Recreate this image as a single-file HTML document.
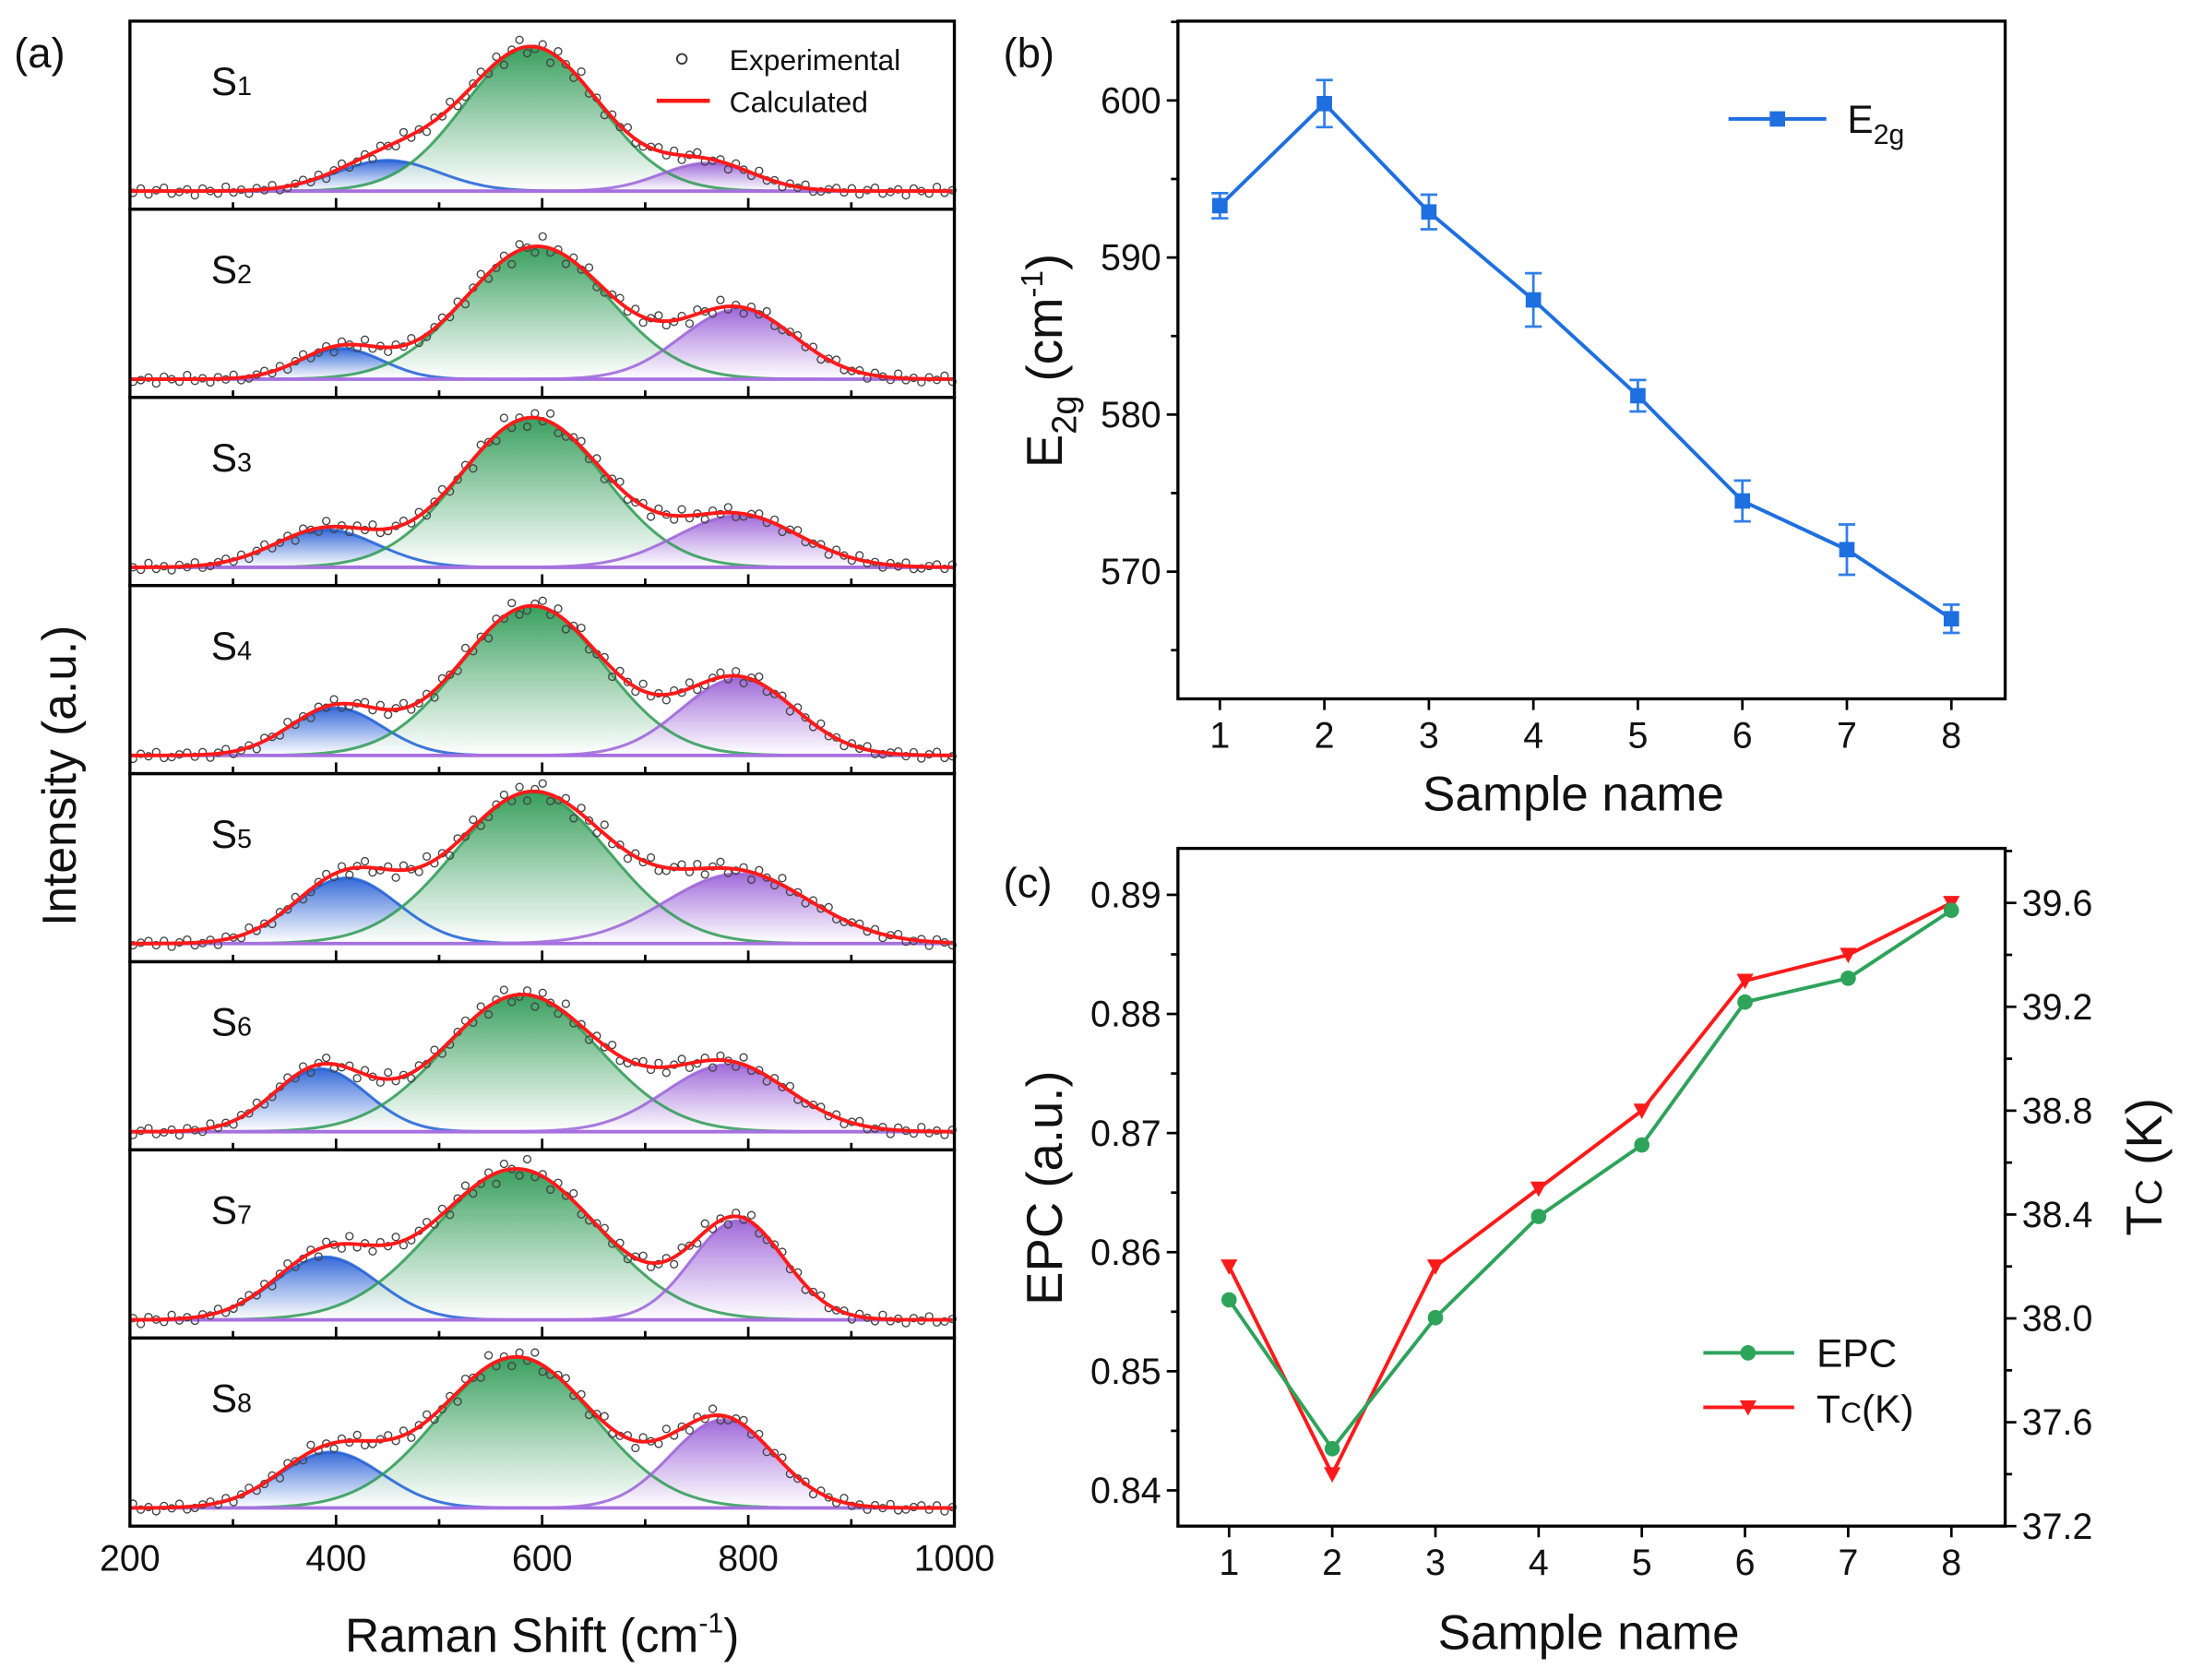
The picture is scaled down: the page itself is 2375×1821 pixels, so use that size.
<!DOCTYPE html>
<html><head><meta charset="utf-8">
<style>
html,body{margin:0;padding:0;background:#fff;}
svg{display:block;font-family:"Liberation Sans",Arial,sans-serif;}
</style></head>
<body>
<svg id="fig" width="2375" height="1821" viewBox="0 0 1568 1202" xmlns="http://www.w3.org/2000/svg">
<defs>
<linearGradient id="gBlue" x1="0" y1="0" x2="0" y2="1"><stop offset="0" stop-color="#2a62d6"/><stop offset="1" stop-color="#ffffff" stop-opacity="0.9"/></linearGradient>
<linearGradient id="gGreen" x1="0" y1="0" x2="0" y2="1"><stop offset="0" stop-color="#2e9a55"/><stop offset="1" stop-color="#ffffff" stop-opacity="0.9"/></linearGradient>
<linearGradient id="gPurple" x1="0" y1="0" x2="0" y2="1"><stop offset="0" stop-color="#9b63d8"/><stop offset="1" stop-color="#ffffff" stop-opacity="0.9"/></linearGradient>
</defs>
<g id="pa"></g>
<g id="pb"></g>
<g id="pc"></g>
</svg>
<script>
// ---------- Panel (a) data ----------
const ramanTicks = [200, 400, 600, 800, 1000];
const sampleLabels = ["1","2","3","4","5","6","7","8"];
const blueCenter   = [450, 405, 390, 400, 410, 385, 390, 395];
const blueSigma    = [50, 40, 50, 45, 50, 45, 50, 50];
const blueAmp      = [22, 22, 27, 34, 47, 45, 45, 40];
const greenCenter  = [590, 595, 590, 590, 590, 580, 575, 575];
const greenSigma   = [65, 70, 70, 70, 75, 75, 80, 75];
const greenAmp     = [103, 95, 107, 107, 108, 98, 108, 108];
const purpleCenter = [760, 790, 790, 790, 790, 780, 790, 775];
const purpleSigma  = [45, 55, 60, 55, 70, 60, 45, 50];
const purpleAmp    = [20, 50, 37, 55, 50, 48, 71, 63];
const expNoise = [2,-3,4,-1,-4,3,1,-2,5,-3,0,3,-5,2,-1,4,-2,1,-4,3,2,-1,-3];

// ---------- Panel (b) data ----------
const samples = [1,2,3,4,5,6,7,8];
const e2g    = [593.3, 599.8, 592.9, 587.3, 581.2, 574.5, 571.4, 567.0];
const e2gErr = [0.8, 1.5, 1.1, 1.7, 1.0, 1.3, 1.6, 0.9];
const e2gTicks = [570, 580, 590, 600];

// ---------- Panel (c) data ----------
const epc = [0.856, 0.8435, 0.8545, 0.863, 0.869, 0.881, 0.883, 0.8887];
const tc  = [38.2, 37.4, 38.2, 38.5, 38.8, 39.3, 39.4, 39.6];
const epcTicks = [0.84, 0.85, 0.86, 0.87, 0.88, 0.89];
const tcTicks = [37.2, 37.6, 38.0, 38.4, 38.8, 39.2, 39.6];

const NS = "http://www.w3.org/2000/svg";
function mk(parent, tag, attrs, text){
  const e = document.createElementNS(NS, tag);
  for (const k in attrs) e.setAttribute(k, attrs[k]);
  if (text !== undefined) e.textContent = text;
  parent.appendChild(e);
  return e;
}

// ================= Panel (a) =================
const pa = document.getElementById('pa');
const aL = 93, aR = 683, aT = 15, aB = 1092;
const subH = (aB - aT) / 8;
const xa = v => aL + (v - 200) / 800 * (aR - aL);
const gauss = (x, c, s, a) => a * Math.exp(-0.5 * ((x - c) / s) ** 2);

for (let i = 0; i < 8; i++) {
  const top = aT + i * subH, bot = top + subH, base = bot - 13;
  const g = mk(pa, 'g', {});
  
  
  const comps = [
    [blueCenter[i], blueSigma[i], blueAmp[i], '#1f5fd6', 'url(#gBlue)', 'blue-peak'],
    [greenCenter[i], greenSigma[i], greenAmp[i], '#2e9a55', 'url(#gGreen)', 'green-peak'],
    [purpleCenter[i], purpleSigma[i], purpleAmp[i], '#9b63d8', 'url(#gPurple)', 'purple-peak']
  ];
  comps.forEach(([c, s, a, col, fill, nm]) => {
    let d = `M${xa(200)},${base}`;
    for (let x = 200; x <= 1000; x += 4) d += ` L${xa(x).toFixed(2)},${(base - gauss(x, c, s, a)).toFixed(2)}`;
    d += ` L${xa(1000)},${base} Z`;
    const f = mk(g, 'path', {d: d, fill: fill, stroke: 'none', opacity: 0.95});
    
    
  });
  comps.forEach(([c, s, a, col, fill, nm]) => {
    let d = '';
    for (let x = 200; x <= 1000; x += 4) d += (x === 200 ? 'M' : ' L') + xa(x).toFixed(2) + ',' + (base - gauss(x, c, s, a)).toFixed(2);
    const l = mk(g, 'path', {d: d, fill: 'none', stroke: col, 'stroke-width': 2, opacity: 0.85});
    
    
  });
  const bl = mk(g, 'line', {x1: aL, x2: aR, y1: base, y2: base, stroke: '#a770e0', 'stroke-width': 2.5});
  
  
  const sum = x => comps.reduce((acc, [c, s, a]) => acc + gauss(x, c, s, a), 0);
  let k = i * 5;
  for (let x = 203; x < 1000; x += 7.5) {
    const y = base - sum(x) + expNoise[k % expNoise.length] * (0.6 + sum(x) / 110);
    k++;
    const p = mk(g, 'circle', {cx: xa(x), cy: y, r: 2.6, fill: 'none', stroke: '#444', 'stroke-width': 0.9});
    
    
  }
  let d = '';
  for (let x = 200; x <= 1000; x += 3) d += (x === 200 ? 'M' : ' L') + xa(x).toFixed(2) + ',' + (base - sum(x)).toFixed(2);
  const r = mk(g, 'path', {d: d, fill: 'none', stroke: '#ff1a1a', 'stroke-width': 2.6});
  
  
  const t = mk(g, 'text', {x: 151, y: top + 53, 'font-size': 28, fill: '#111'}, 'S');
  mk(t, 'tspan', {'font-size': 19, dy: 0}, sampleLabels[i]);
  
  
  for (let v = 300; v <= 900; v += 100) {
    const len = (v % 200 === 0) ? 8 : 5;
    const tk = mk(g, 'line', {x1: xa(v), x2: xa(v), y1: bot, y2: bot - len, stroke: '#000', 'stroke-width': 1.8});
    
    
  }
  const sep = mk(g, 'rect', {x: aL, y: top, width: aR - aL, height: subH, fill: 'none', stroke: '#000', 'stroke-width': 2.2});
  
  
}
const lgA = mk(pa, 'g', {});


mk(lgA, 'circle', {cx: 488, cy: 42, r: 3.5, fill: 'none', stroke: '#333', 'stroke-width': 1.2});
mk(lgA, 'text', {x: 522, y: 50, 'font-size': 21, fill: '#111'}, 'Experimental');
mk(lgA, 'line', {x1: 470, x2: 508, y1: 72, y2: 72, stroke: '#ff1a1a', 'stroke-width': 3});
mk(lgA, 'text', {x: 522, y: 80, 'font-size': 21, fill: '#111'}, 'Calculated');
ramanTicks.forEach(v => {
  const t = mk(pa, 'text', {x: xa(v), y: 1124, 'font-size': 26, 'text-anchor': 'middle', fill: '#111'}, String(v));
  
  
});
const xta = mk(pa, 'text', {x: 388, y: 1182, 'font-size': 34, 'text-anchor': 'middle', fill: '#111'});


xta.appendChild(document.createTextNode('Raman Shift (cm'));
mk(xta, 'tspan', {'font-size': 20, dy: -14}, '-1');
mk(xta, 'tspan', {dy: 14}, ')');
const yta = mk(pa, 'text', {x: 0, y: 0, 'font-size': 34, 'text-anchor': 'middle', fill: '#111', transform: 'translate(54,555) rotate(-90)'}, 'Intensity (a.u.)');


const la = mk(pa, 'text', {x: 10, y: 48, 'font-size': 30, fill: '#111'}, '(a)');



// ================= Panel (b) =================
const pb = document.getElementById('pb');
const bL = 843, bR = 1435, bT = 15, bB = 500;
const bYmin = 561.9, bYmax = 605.05;
const xb = n => bL + (bR - bL) * (0.0507 + (n - 1) / 7 * (0.935 - 0.0507));
const yb = v => bB - (v - bYmin) / (bYmax - bYmin) * (bB - bT);
const fb = mk(pb, 'rect', {x: bL, y: bT, width: bR - bL, height: bB - bT, fill: 'none', stroke: '#000', 'stroke-width': 2.2});


samples.forEach(n => {
  mk(pb, 'line', {x1: xb(n), x2: xb(n), y1: bB, y2: bB + 8, stroke: '#000', 'stroke-width': 1.8});
  const t = mk(pb, 'text', {x: xb(n), y: bB + 35, 'font-size': 26, 'text-anchor': 'middle', fill: '#111'}, String(n));
  
  
});
for (let v = 565; v <= 605; v += 5) {
  const major = v % 10 === 0;
  mk(pb, 'line', {x1: bL, x2: bL - (major ? 8 : 5), y1: yb(v), y2: yb(v), stroke: '#000', 'stroke-width': 1.8});
}
e2gTicks.forEach(v => {
  const t = mk(pb, 'text', {x: bL - 12, y: yb(v) + 9, 'font-size': 26, 'text-anchor': 'end', fill: '#111'}, String(v));
  
  
});
let dB = '';
samples.forEach((n, i) => { dB += (i ? ' L' : 'M') + xb(n) + ',' + yb(e2g[i]); });
const lb = mk(pb, 'path', {d: dB, fill: 'none', stroke: '#1e6fe0', 'stroke-width': 2.6});


samples.forEach((n, i) => {
  const x = xb(n), y1 = yb(e2g[i] + e2gErr[i]), y2 = yb(e2g[i] - e2gErr[i]);
  const eb = mk(pb, 'path', {d: `M${x},${y1} L${x},${y2} M${x-6},${y1} L${x+6},${y1} M${x-6},${y2} L${x+6},${y2}`, stroke: '#2f7fe8', 'stroke-width': 1.8, fill: 'none'});
  
  
  const m = mk(pb, 'rect', {x: x - 5.5, y: yb(e2g[i]) - 5.5, width: 11, height: 11, fill: '#1e6fe0'});
  
  
});
const lgB = mk(pb, 'g', {});


mk(lgB, 'line', {x1: 1237, x2: 1307, y1: 85, y2: 85, stroke: '#1e6fe0', 'stroke-width': 2.6});
mk(lgB, 'rect', {x: 1266.5, y: 79.5, width: 11, height: 11, fill: '#1e6fe0'});
const lbt = mk(lgB, 'text', {x: 1322, y: 95, 'font-size': 28, fill: '#111'}, 'E');
mk(lbt, 'tspan', {'font-size': 20, dy: 8}, '2g');
const ytb = mk(pb, 'text', {x: 0, y: 0, 'font-size': 36, 'text-anchor': 'middle', fill: '#111', transform: 'translate(760,258) rotate(-90)'}, 'E');


mk(ytb, 'tspan', {'font-size': 25, dy: 10}, '2g');
mk(ytb, 'tspan', {dy: -10}, ' (cm');
mk(ytb, 'tspan', {'font-size': 22, dy: -14}, '-1');
mk(ytb, 'tspan', {dy: 14}, ')');
const xtb = mk(pb, 'text', {x: 1126, y: 580, 'font-size': 35, 'text-anchor': 'middle', fill: '#111'}, 'Sample name');


const lbb = mk(pb, 'text', {x: 718, y: 48, 'font-size': 30, fill: '#111'}, '(b)');



// ================= Panel (c) =================
const pc = document.getElementById('pc');
const cL = 843, cR = 1435, cT = 607, cB = 1092;
const eMin = 0.8370, eMax = 0.8939, tMin = 37.2, tMax = 39.81;
const xc = n => cL + (cR - cL) * (0.0618 + (n - 1) / 7 * (0.935 - 0.0618));
const ye = v => cB - (v - eMin) / (eMax - eMin) * (cB - cT);
const yt = v => cB - (v - tMin) / (tMax - tMin) * (cB - cT);
const fc = mk(pc, 'rect', {x: cL, y: cT, width: cR - cL, height: cB - cT, fill: 'none', stroke: '#000', 'stroke-width': 2.2});


samples.forEach(n => {
  mk(pc, 'line', {x1: xc(n), x2: xc(n), y1: cB, y2: cB + 8, stroke: '#000', 'stroke-width': 1.8});
  const t = mk(pc, 'text', {x: xc(n), y: cB + 35, 'font-size': 26, 'text-anchor': 'middle', fill: '#111'}, String(n));
  
  
});
for (let v = 0.840; v <= 0.8935; v += 0.005) {
  const major = Math.round(v * 1000) % 10 === 0;
  mk(pc, 'line', {x1: cL, x2: cL - (major ? 8 : 5), y1: ye(v), y2: ye(v), stroke: '#000', 'stroke-width': 1.8});
}
epcTicks.forEach(v => {
  const t = mk(pc, 'text', {x: cL - 12, y: ye(v) + 9, 'font-size': 26, 'text-anchor': 'end', fill: '#111'}, v.toFixed(2));
  
  
});
for (let v = 37.2; v <= 39.81; v += 0.2) {
  const major = Math.round(v * 10) % 4 === 0;
  mk(pc, 'line', {x1: cR, x2: cR + (major ? 8 : 5), y1: yt(v), y2: yt(v), stroke: '#000', 'stroke-width': 1.8});
}
tcTicks.forEach(v => {
  const t = mk(pc, 'text', {x: cR + 12, y: yt(v) + 9, 'font-size': 26, fill: '#111'}, v.toFixed(1));
  
  
});
let dT = '', dE = '';
samples.forEach((n, i) => { dT += (i ? ' L' : 'M') + xc(n) + ',' + yt(tc[i]); dE += (i ? ' L' : 'M') + xc(n) + ',' + ye(epc[i]); });
const lt = mk(pc, 'path', {d: dT, fill: 'none', stroke: '#ff1a1a', 'stroke-width': 2.6});


const le = mk(pc, 'path', {d: dE, fill: 'none', stroke: '#2ea35a', 'stroke-width': 2.6});


samples.forEach((n, i) => {
  const x = xc(n), y = yt(tc[i]);
  const m = mk(pc, 'path', {d: `M${x-6},${y-5} L${x+6},${y-5} L${x},${y+6} Z`, fill: '#ff1a1a'});
  
  
  const c = mk(pc, 'circle', {cx: x, cy: ye(epc[i]), r: 5.5, fill: '#2ea35a'});
  
  
});
const lgC = mk(pc, 'g', {});


mk(lgC, 'line', {x1: 1219, x2: 1284, y1: 968, y2: 968, stroke: '#2ea35a', 'stroke-width': 2.6});
mk(lgC, 'circle', {cx: 1251, cy: 968, r: 5.5, fill: '#2ea35a'});
mk(lgC, 'text', {x: 1300, y: 978, 'font-size': 28, fill: '#111'}, 'EPC');
mk(lgC, 'line', {x1: 1219, x2: 1284, y1: 1007, y2: 1007, stroke: '#ff1a1a', 'stroke-width': 2.6});
mk(lgC, 'path', {d: 'M1245,1002 L1257,1002 L1251,1013 Z', fill: '#ff1a1a'});
const lct = mk(lgC, 'text', {x: 1300, y: 1018, 'font-size': 28, fill: '#111'}, 'T');
mk(lct, 'tspan', {'font-size': 21}, 'C');
mk(lct, 'tspan', {}, '(K)');
const ytc = mk(pc, 'text', {x: 0, y: 0, 'font-size': 36, 'text-anchor': 'middle', fill: '#111', transform: 'translate(760,850) rotate(-90)'}, 'EPC (a.u.)');


const ytr = mk(pc, 'text', {x: 0, y: 0, 'font-size': 36, 'text-anchor': 'middle', fill: '#111', transform: 'translate(1547,835) rotate(-90)'}, 'T');


mk(ytr, 'tspan', {'font-size': 26}, 'C');
mk(ytr, 'tspan', {}, ' (K)');
const xtc = mk(pc, 'text', {x: 1137, y: 1180, 'font-size': 35, 'text-anchor': 'middle', fill: '#111'}, 'Sample name');


const lcc = mk(pc, 'text', {x: 718, y: 642, 'font-size': 30, fill: '#111'}, '(c)');


</script>
</body></html>
